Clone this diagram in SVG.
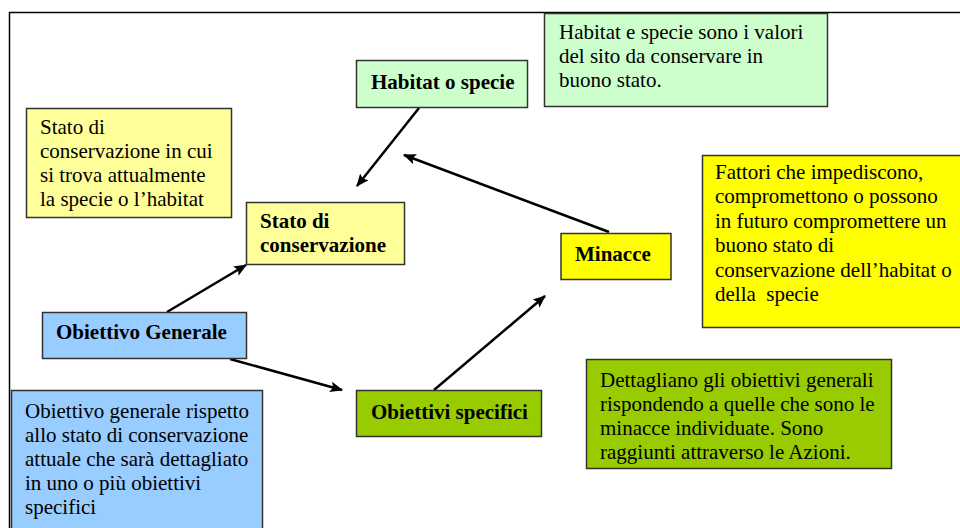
<svg xmlns="http://www.w3.org/2000/svg" width="960" height="528" viewBox="0 0 960 528">
<defs>
<marker id="ah" viewBox="0 0 12 10" refX="11" refY="5" markerWidth="5.2" markerHeight="4.3" markerUnits="strokeWidth" orient="auto">
<path d="M0,0 L12,5 L0,10 L2.5,5 Z" fill="#000"/>
</marker>
<style>
.box{stroke:#333;stroke-width:1.5}
.t{font-family:"Liberation Serif","Times New Roman",serif;font-size:21px;fill:#000}
.b{font-weight:bold}
.c{stroke:#000;stroke-width:2.5;fill:none;marker-end:url(#ah)}
</style>
</defs>
<rect width="960" height="528" fill="#fff"/>
<path d="M9.5,528 V12.5 H960" fill="none" stroke="#000" stroke-width="1.5"/>

<g id="connectors">
<line class="c" x1="419" y1="108" x2="357" y2="186"/>
<line class="c" x1="609" y1="232" x2="404" y2="155"/>
<line class="c" x1="167" y1="312" x2="246" y2="265"/>
<line class="c" x1="230" y1="359" x2="342" y2="390"/>
<line class="c" x1="434" y1="390" x2="545" y2="296"/>
</g>

<g id="note-habitat">
<rect class="box" x="544.5" y="13.5" width="283" height="93" fill="#ccffcc"/>
<text class="t" x="559" y="39">Habitat e specie sono i valori</text>
<text class="t" x="559" y="63">del sito da conservare in</text>
<text class="t" x="559" y="87">buono stato.</text>
</g>

<g id="habitat">
<rect class="box" x="356.5" y="60.5" width="171" height="47" fill="#ccffcc"/>
<text class="t b" x="371" y="89">Habitat o specie</text>
</g>

<g id="note-stato">
<rect class="box" x="26.5" y="108.5" width="205" height="109" fill="#ffff99"/>
<text class="t" x="40" y="134">Stato di</text>
<text class="t" x="40" y="158">conservazione in cui</text>
<text class="t" x="40" y="182">si trova attualmente</text>
<text class="t" x="40" y="206">la specie o l’habitat</text>
</g>

<g id="stato">
<rect class="box" x="246.5" y="202.5" width="158" height="62" fill="#ffff99"/>
<text class="t b" x="260" y="228">Stato di</text>
<text class="t b" x="260" y="252">conservazione</text>
</g>

<g id="minacce">
<rect class="box" x="561" y="233.5" width="110" height="46" fill="#ffff00"/>
<text class="t b" x="575" y="261">Minacce</text>
</g>

<g id="note-minacce">
<rect class="box" x="702.5" y="155.5" width="262" height="172" fill="#ffff00"/>
<text class="t" x="715" y="179">Fattori che impediscono,</text>
<text class="t" x="715" y="203">compromettono o possono</text>
<text class="t" x="715" y="228">in futuro compromettere un</text>
<text class="t" x="715" y="252">buono stato di</text>
<text class="t" x="715" y="277">conservazione dell’habitat o</text>
<text class="t" x="715" y="301" xml:space="preserve" style="white-space:pre">della  specie</text>
</g>

<g id="obiettivo-generale">
<rect class="box" x="42.5" y="312.5" width="204" height="46" fill="#99ccff"/>
<text class="t b" x="56" y="339">Obiettivo Generale</text>
</g>

<g id="note-generale">
<rect class="box" x="11.5" y="390.5" width="251" height="145" fill="#99ccff"/>
<text class="t" x="25" y="418">Obiettivo generale rispetto</text>
<text class="t" x="25" y="442">allo stato di conservazione</text>
<text class="t" x="25" y="466">attuale che sarà dettagliato</text>
<text class="t" x="25" y="490">in uno o più obiettivi</text>
<text class="t" x="25" y="514">specifici</text>
</g>

<g id="obiettivi-specifici">
<rect class="box" x="356.5" y="390.5" width="185" height="46" fill="#99cc00"/>
<text class="t b" x="371" y="419">Obiettivi specifici</text>
</g>

<g id="note-specifici">
<rect class="box" x="586.5" y="359.5" width="305" height="109" fill="#99cc00"/>
<text class="t" x="600" y="387">Dettagliano gli obiettivi generali</text>
<text class="t" x="600" y="411">rispondendo a quelle che sono le</text>
<text class="t" x="600" y="435">minacce individuate. Sono</text>
<text class="t" x="600" y="459">raggiunti attraverso le Azioni.</text>
</g>
</svg>
